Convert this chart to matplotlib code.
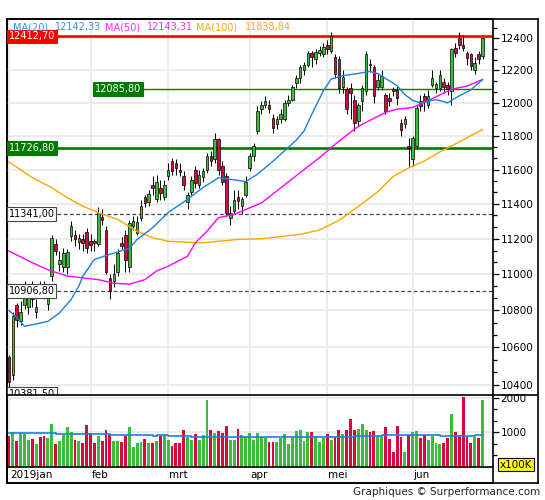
import numpy as np
import matplotlib
matplotlib.use('Agg')
import matplotlib.pyplot as plt
from matplotlib.lines import Line2D
from matplotlib.ticker import FixedLocator, NullFormatter

plt.rcParams['font.family'] = ['DejaVu Sans']

# daily candles, 2019-01-03 .. 2019-06-28 (index based)
opens = [10545, 10450, 10830, 10740, 10830, 10820, 10900, 10790, 10935, 10930,
         10835, 10990, 11170, 11060, 11040, 11040, 11215, 11220, 11180, 11200,
         11240, 11190, 11185, 11170, 11325, 11250, 10980, 10960, 11010, 11175,
         11220, 11040, 11270, 11235, 11320, 11440, 11410, 11510, 11430, 11495,
         11440, 11560, 11650, 11640, 11600, 11560, 11410, 11470, 11600, 11510,
         11555, 11600, 11680, 11660, 11780, 11620, 11560, 11320, 11360, 11440,
         11390, 11450, 11610, 11680, 11830, 11960, 11990, 11990, 11910, 11870,
         11900, 11900, 12000, 12020, 12120, 12150, 12200, 12230, 12305, 12270,
         12310, 12300, 12360, 12320, 12280, 12270, 12100, 12085, 12090, 12020,
         11890, 12010, 12070, 12240, 12220, 12100, 12100, 12050, 12030, 12085,
         12080, 11880, 11870, 11740, 11660, 11740, 12010, 12040, 11990, 12110,
         12090, 12090, 12130, 12110, 12070, 12340, 12400, 12360, 12310, 12300,
         12200, 12300, 12290]
highs = [10560, 10790, 10840, 10850, 10960, 10900, 10960, 10860, 10960, 10960,
         10930, 11220, 11200, 11130, 11150, 11140, 11300, 11250, 11230, 11230,
         11260, 11230, 11200, 11380, 11370, 11270, 11000, 11060, 11140, 11210,
         11250, 11310, 11330, 11330, 11420, 11450, 11480, 11560, 11570, 11540,
         11540, 11640, 11670, 11660, 11640, 11590, 11470, 11560, 11620, 11600,
         11610, 11700, 11710, 11820, 11790, 11650, 11580, 11390, 11480, 11480,
         11440, 11560, 11700, 11760, 11980, 12010, 12040, 12020, 11930, 11920,
         11960, 12020, 12050, 12110, 12170, 12230, 12250, 12320, 12320, 12330,
         12350, 12370, 12390, 12440, 12300, 12290, 12200, 12100, 12120, 12050,
         12000, 12110, 12320, 12270, 12230, 12180, 12200, 12060, 12060, 12100,
         12110, 11900, 11920, 11790, 11800, 11990, 12050, 12060, 12080, 12200,
         12130, 12200, 12150, 12130, 12340, 12370, 12440, 12420, 12320, 12310,
         12280, 12320, 12400]
lows = [10381.5, 10425, 10710, 10720, 10810, 10780, 10820, 10760, 10880, 10860,
        10800, 10960, 11110, 11020, 11010, 11000, 11190, 11160, 11140, 11130,
        11120, 11130, 11130, 11160, 11280, 11000, 10860, 10930, 10990, 11140,
        11010, 11010, 11250, 11220, 11300, 11380, 11390, 11450, 11410, 11420,
        11420, 11540, 11570, 11570, 11560, 11480, 11370, 11450, 11490, 11490,
        11530, 11580, 11620, 11640, 11570, 11510, 11330, 11280, 11350, 11370,
        11340, 11440, 11590, 11650, 11810, 11930, 11970, 11940, 11820, 11840,
        11880, 11890, 11980, 12010, 12090, 12120, 12170, 12220, 12220, 12240,
        12290, 12280, 12300, 12310, 12150, 12060, 12060, 11930, 11900, 11830,
        11860, 11950, 12050, 12190, 12000, 12080, 12080, 11930, 11980, 12040,
        11990, 11800, 11850, 11620, 11620, 11720, 11950, 11950, 11970, 12100,
        12060, 12070, 12060, 12050, 11990, 12280, 12330, 12320, 12230, 12200,
        12180, 12240, 12270]
closes = [10416, 10767, 10747, 10790, 10880, 10880, 10860, 10820, 10910, 10880,
          10870, 11205, 11130, 11080, 11120, 11125, 11270, 11200, 11205, 11175,
          11150, 11165, 11176, 11350, 11310, 11010, 10907, 11000, 11120, 11160,
          11080, 11290, 11300, 11295, 11390, 11405, 11460, 11490, 11525, 11465,
          11510, 11600, 11590, 11610, 11585, 11510, 11450, 11540, 11520, 11570,
          11590, 11680, 11650, 11780, 11600, 11530, 11350, 11346, 11420, 11419,
          11428, 11526, 11680, 11740, 11950, 11990, 12010, 11965, 11850, 11905,
          11935, 12000, 12020, 12100, 12150, 12222, 12235, 12305, 12280, 12315,
          12328, 12344, 12330, 12413, 12180, 12092, 12160, 11960, 12060, 11877,
          11990, 12090, 12300, 12230, 12041, 12143, 12165, 11952, 12011, 12071,
          12027, 11838, 11902, 11727, 11790, 11971, 11980, 12009, 12045, 12155,
          12116, 12169, 12096, 12086, 12332, 12309, 12355, 12340, 12275, 12228,
          12245, 12271, 12399]
# volume in units of 100K
volumes = [904, 1019, 762, 990, 952, 790, 819, 676, 857, 904,
           847, 1247, 676, 762, 933, 1161, 1009, 790, 762, 704,
           1219, 980, 704, 904, 762, 1076, 933, 742, 762, 733,
           904, 1161, 590, 695, 733, 819, 704, 704, 762, 904,
           933, 790, 619, 686, 704, 1076, 876, 790, 942, 790,
           933, 1932, 1076, 971, 1047, 990, 1190, 790, 790, 1104,
           933, 895, 990, 790, 990, 876, 828, 714, 714, 733,
           828, 962, 676, 876, 1047, 1076, 762, 1019, 1019, 904,
           733, 828, 962, 790, 876, 1076, 962, 1076, 1390, 1076,
           1104, 1247, 1076, 1019, 1047, 904, 876, 1161, 819, 447,
           1190, 876, 447, 933, 1019, 1047, 847, 933, 790, 904,
           704, 676, 704, 847, 1533, 1019, 933, 2028, 876, 704,
           876, 847, 1932]

# moving averages
ma20_idx = [0, 2, 4, 6, 10, 13, 16, 18, 19, 22, 25, 28, 31, 33, 37, 41, 46, 50, 54, 58,
            61, 64, 67, 71, 74, 76, 78, 81, 83, 86, 89, 93, 95, 98, 100, 102, 104, 106,
            110, 113, 115, 119, 122]
ma20_val = [10800, 10760, 10713, 10722, 10740, 10786, 10860, 10935, 10989, 11083,
            11105, 11125, 11147, 11196, 11263, 11350, 11427, 11495, 11553, 11540,
            11530, 11573, 11630, 11711, 11775, 11830, 11930, 12074, 12146, 12167,
            12177, 12193, 12180, 12135, 12105, 12050, 12015, 12000, 12020, 12000,
            12030, 12080, 12142]
ma50_idx = [0, 6, 10, 15, 19, 23, 27, 31, 35, 38, 41, 46, 48, 51, 54, 58, 61, 65, 75, 80,
            84, 89, 91, 97, 100, 104, 107, 110, 114, 118, 122]
ma50_val = [11130, 11065, 11025, 10990, 10980, 10970, 10950, 10945, 10970, 11018,
            11045, 11101, 11177, 11243, 11321, 11339, 11368, 11405, 11582, 11671,
            11750, 11841, 11870, 11942, 11962, 11972, 12003, 12037, 12083, 12103, 12143]
ma100_idx = [0, 6, 11, 15, 19, 23, 28, 33, 37, 41, 46, 50, 54, 59, 65, 75, 80, 85, 90, 95,
             99, 103, 107, 111, 116, 122]
ma100_val = [11645, 11553, 11495, 11436, 11387, 11349, 11310, 11243, 11206, 11186,
             11180, 11177, 11186, 11196, 11200, 11225, 11250, 11305, 11385, 11470,
             11560, 11610, 11651, 11705, 11764, 11839]
volma_idx = [0, 12, 26, 37, 38, 41, 47, 62, 89, 96, 99, 100, 111, 120, 122]
volma_val = [980, 960, 933, 905, 935, 904, 876, 866, 904, 933, 915, 933, 904, 940, 940]

month_labels = ['2019jan', 'feb', 'mrt', 'apr', 'mei', 'jun']
month_start = [0, 21, 41, 62, 82, 104]

GREEN = '#3cbc3c'
RED = '#d7083f'
C20, C50, C100 = '#1a80d8', '#ff00ff', '#ffa500'

W, H = 545, 500
fig = plt.figure(figsize=(W / 100, H / 100), dpi=100)


def box(l, t, r, b):
    return [l / W, 1 - b / H, (r - l) / W, (b - t) / H]


frame = fig.add_axes(box(7, 19, 538, 483))
frame.set_xticks([])
frame.set_yticks([])
for s in frame.spines.values():
    s.set_linewidth(1.2)

ax = fig.add_axes(box(7, 19, 493, 395))
axv = fig.add_axes(box(7, 395, 493, 483))
for a in (ax, axv):
    a.patch.set_alpha(0)
    for s in a.spines.values():
        s.set_linewidth(1.2)
    a.set_xlim(-0.52, 124.7)
    a.set_xticks([])
    a.yaxis.tick_right()
    a.tick_params(axis='y', which='major', direction='out', length=4, width=0.9,
                  labelsize=7.5, pad=1.5)
    a.tick_params(axis='y', which='minor', direction='out', length=3, width=0.9)
ax.spines['bottom'].set_visible(False)
axv.spines['top'].set_visible(False)
fig.add_artist(Line2D([7 / W, 538 / W], [1 - 395 / H] * 2, color='black', lw=1.2))

# ---- price panel ----
ax.set_yscale('log')
ax.set_ylim(10346, 12522)
majors = list(range(10400, 12401, 200))
ax.yaxis.set_major_locator(FixedLocator(majors))
ax.set_yticklabels([str(v) for v in majors])
minors = [10400 + k * 200 / 3 for k in range(1, 33) if k % 3 != 0]
ax.yaxis.set_minor_locator(FixedLocator(minors))
ax.yaxis.set_minor_formatter(NullFormatter())

for v in majors:
    ax.axhline(v, color='#e8e8e8', lw=1.2, zorder=1)
for m in month_start:
    ax.axvline(m, color='#e8e8e8', lw=1.2, zorder=1)

x = np.arange(len(closes))
o, h, l, c = (np.array(v, dtype=float) for v in (opens, highs, lows, closes))
up = c >= o
cols = np.where(up, GREEN, RED)
ax.vlines(x, l, h, color='black', lw=0.7, zorder=3)
ax.bar(x, np.maximum(np.abs(c - o), 2), bottom=np.minimum(o, c), width=0.66,
       color=cols, edgecolor='black', linewidth=0.5, zorder=3.5)

ax.plot(ma100_idx, ma100_val, color=C100, lw=1.0, zorder=4)
ax.plot(ma50_idx, ma50_val, color=C50, lw=1.0, zorder=4)
ax.plot(ma20_idx, ma20_val, color=C20, lw=1.0, zorder=4)

# support / resistance levels
ax.axhline(12412.7, color='#ff0000', lw=1.9, zorder=2)
ax.axhline(11726.8, color='#007a00', lw=1.9, zorder=2)
ax.hlines(12085.8, 21.6, 124.7, color='#007a00', lw=1.0, zorder=2)
for lv in (11341.0, 10906.8):
    ax.axhline(lv, color='#444444', lw=0.9, ls=(0, (3, 2)), zorder=2)


def tag(xpos, y, txt, fc, tc, ec):
    ax.text(xpos, y, txt, fontsize=7, color=tc, ha='left', va='center', zorder=10,
            clip_on=True,
            bbox=dict(boxstyle='square,pad=0.18', fc=fc, ec=ec, lw=0.8))


tag(-0.1, 12412.7, '12412,70', '#ff0000', 'white', '#ff0000')
tag(22.1, 12085.8, '12085,80', '#007a00', 'white', '#007a00')
tag(-0.1, 11726.8, '11726,80', '#007a00', 'white', '#007a00')
tag(-0.1, 11341.0, '11341,00', 'white', 'black', '#444444')
tag(-0.1, 10906.8, '10906,80', 'white', 'black', '#444444')
tag(-0.1, 10352, '10381,50', 'white', 'black', '#444444')

# legend line
legend = [(12.5, 'MA(20)', '#3a8ee0'), (55, '12142,33', '#3a8ee0'),
          (105, 'MA(50)', '#ff2bff'), (146.5, '12143,31', '#ff2bff'),
          (196, 'MA(100)', '#ffa21a'), (245, '11838,84', '#ffa21a')]
for px, txt, col in legend:
    fig.text(px / W, 1 - 27 / H, txt, color=col, fontsize=7, ha='left', va='center')

# ---- volume panel ----
axv.set_ylim(-464, 2087)
axv.yaxis.set_major_locator(FixedLocator([1000, 2000]))
axv.set_yticklabels(['1000', '2000'])
axv.yaxis.set_minor_locator(FixedLocator([1000 / 3, 2000 / 3, 4000 / 3, 5000 / 3]))
axv.yaxis.set_minor_formatter(NullFormatter())
for v in (1000, 2000):
    axv.axhline(v, color='#e8e8e8', lw=1.2, zorder=1)
axv.vlines(month_start, 0, 2087, color='#e8e8e8', lw=1.2, zorder=1)
axv.bar(x, volumes, width=0.74, color=cols, zorder=2)
axv.plot(volma_idx, volma_val, color=C20, lw=1.2, drawstyle='steps-post', zorder=3)
axv.axhline(0, color='black', lw=1.2, zorder=4)
for m, lab in zip(month_start, month_labels):
    axv.text(m + 0.2, -232, lab, fontsize=7.5, ha='left', va='center')

fig.text(516 / W, 1 - 464.5 / H, 'x100K', fontsize=7.5, ha='center', va='center',
         bbox=dict(boxstyle='square,pad=0.15', fc='#ffff00', ec='black', lw=0.8), zorder=10)

fig.text(540 / W, 1 - 492 / H, 'Graphiques \u00a9 Surperformance.com', fontsize=7.5,
         color='#222222', ha='right', va='center')

fig.savefig('out.png', dpi=100)
